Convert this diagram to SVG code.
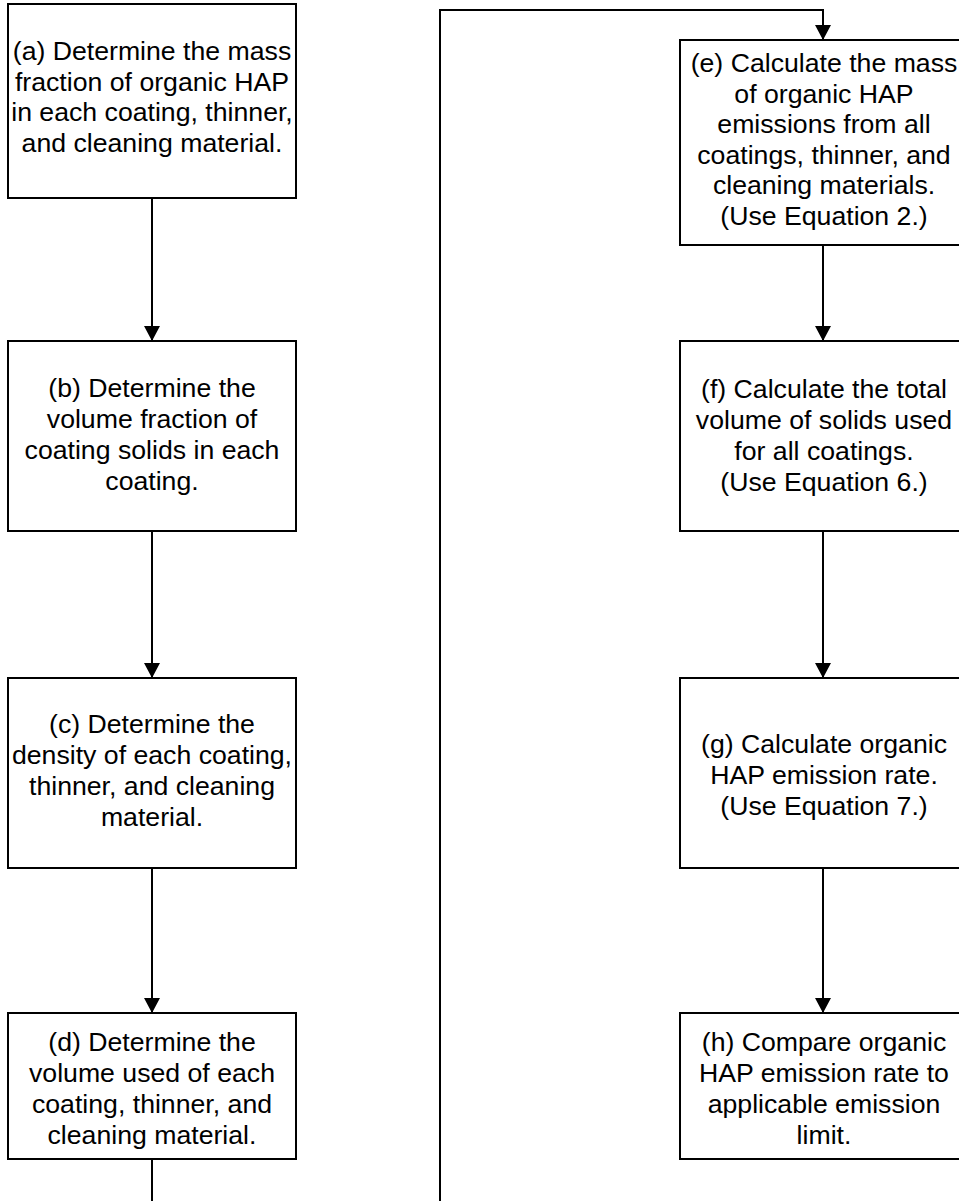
<svg xmlns="http://www.w3.org/2000/svg" width="959" height="1201" viewBox="0 0 959 1201">
<style>
.box{fill:#fff;stroke:#000;stroke-width:2}
.lbl{font-family:"Liberation Sans",Arial,sans-serif;font-size:26.67px;fill:#000;text-anchor:middle}
.conn{fill:none;stroke:#000;stroke-width:2}
</style>
<defs>
<marker id="arr" markerUnits="userSpaceOnUse" markerWidth="16" markerHeight="16" refX="15" refY="8" orient="auto">
<path d="M0,0 L15,8 L0,16 Z" fill="#000"/>
</marker>
</defs>
<rect width="959" height="1201" fill="#fff"/>
<g id="connectors">
<path class="conn" d="M152,198 V341" marker-end="url(#arr)"/>
<path class="conn" d="M152,531 V678" marker-end="url(#arr)"/>
<path class="conn" d="M152,868 V1013" marker-end="url(#arr)"/>
<path class="conn" d="M152,1159 V1230 H440 V10 H823 V40" marker-end="url(#arr)"/>
<path class="conn" d="M823,245 V341" marker-end="url(#arr)"/>
<path class="conn" d="M823,531 V678" marker-end="url(#arr)"/>
<path class="conn" d="M823,868 V1013" marker-end="url(#arr)"/>
</g>
<g id="node-a">
<rect class="box" x="8" y="4" width="288" height="194"/>
<text class="lbl" x="152" y="60"><tspan x="152">(a) Determine the mass</tspan><tspan x="152" dy="30.5">fraction of organic HAP</tspan><tspan x="152" dy="30.5">in each coating, thinner,</tspan><tspan x="152" dy="30.5">and cleaning material.</tspan></text>
</g>
<g id="node-b">
<rect class="box" x="8" y="341" width="288" height="190"/>
<text class="lbl" x="152" y="397"><tspan x="152">(b) Determine the</tspan><tspan x="152" dy="31">volume fraction of</tspan><tspan x="152" dy="31">coating solids in each</tspan><tspan x="152" dy="31">coating.</tspan></text>
</g>
<g id="node-c">
<rect class="box" x="8" y="678" width="288" height="190"/>
<text class="lbl" x="152" y="733"><tspan x="152">(c) Determine the</tspan><tspan x="152" dy="31">density of each coating,</tspan><tspan x="152" dy="31">thinner, and cleaning</tspan><tspan x="152" dy="31">material.</tspan></text>
</g>
<g id="node-d">
<rect class="box" x="8" y="1013" width="288" height="146"/>
<text class="lbl" x="152" y="1051"><tspan x="152">(d) Determine the</tspan><tspan x="152" dy="31">volume used of each</tspan><tspan x="152" dy="31">coating, thinner, and</tspan><tspan x="152" dy="31">cleaning material.</tspan></text>
</g>
<g id="node-e">
<rect class="box" x="680" y="40" width="288" height="205"/>
<text class="lbl" x="824" y="72"><tspan x="824">(e) Calculate the mass</tspan><tspan x="824" dy="30.5">of organic HAP</tspan><tspan x="824" dy="30.5">emissions from all</tspan><tspan x="824" dy="30.5">coatings, thinner, and</tspan><tspan x="824" dy="30.5">cleaning materials.</tspan><tspan x="824" dy="30.5">(Use Equation 2.)</tspan></text>
</g>
<g id="node-f">
<rect class="box" x="680" y="341" width="288" height="190"/>
<text class="lbl" x="824" y="398"><tspan x="824">(f) Calculate the total</tspan><tspan x="824" dy="31">volume of solids used</tspan><tspan x="824" dy="31">for all coatings.</tspan><tspan x="824" dy="31">(Use Equation 6.)</tspan></text>
</g>
<g id="node-g">
<rect class="box" x="680" y="678" width="288" height="190"/>
<text class="lbl" x="824" y="753"><tspan x="824">(g) Calculate organic</tspan><tspan x="824" dy="31">HAP emission rate.</tspan><tspan x="824" dy="31">(Use Equation 7.)</tspan></text>
</g>
<g id="node-h">
<rect class="box" x="680" y="1013" width="288" height="146"/>
<text class="lbl" x="824" y="1051"><tspan x="824">(h) Compare organic</tspan><tspan x="824" dy="31">HAP emission rate to</tspan><tspan x="824" dy="31">applicable emission</tspan><tspan x="824" dy="31">limit.</tspan></text>
</g>
</svg>
